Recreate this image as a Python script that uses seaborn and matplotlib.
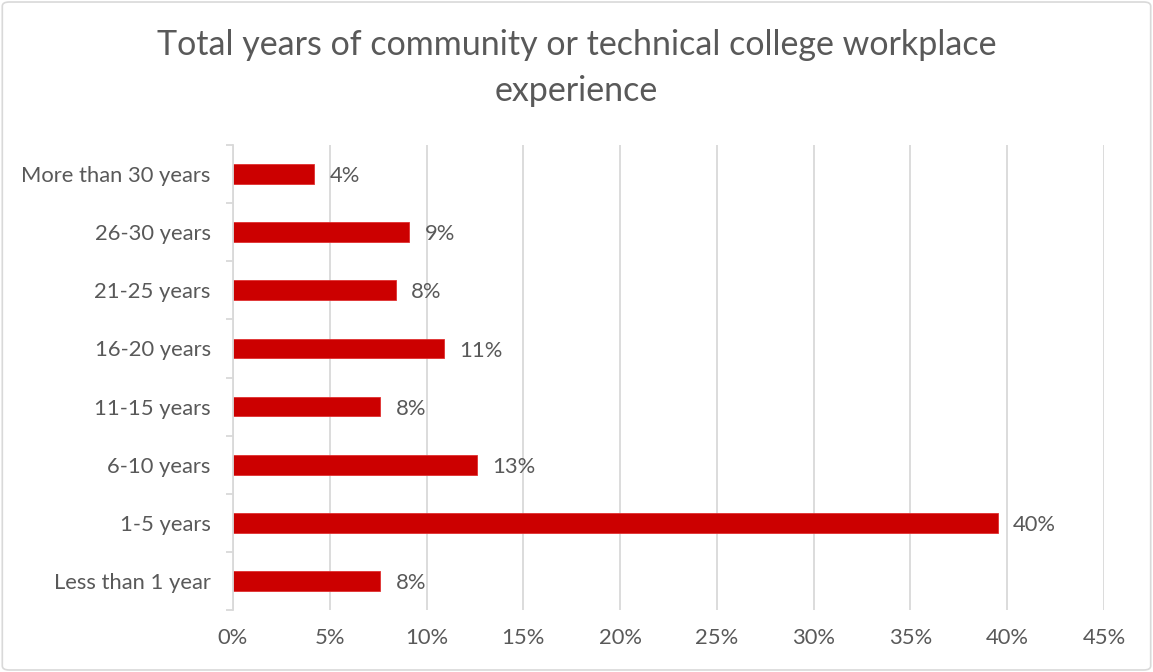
import matplotlib
matplotlib.use("Agg")
import matplotlib.pyplot as plt
import seaborn as sns
import pandas as pd
from matplotlib.patches import FancyBboxPatch
from matplotlib.ticker import FuncFormatter, FixedLocator

# Survey distribution: years of community/technical college workplace experience
categories = [
    "More than 30 years",
    "26-30 years",
    "21-25 years",
    "16-20 years",
    "11-15 years",
    "6-10 years",
    "1-5 years",
    "Less than 1 year",
]
shares = [4.2, 9.1, 8.4, 10.9, 7.6, 12.6, 39.5, 7.6]
x_ticks = [0, 5, 10, 15, 20, 25, 30, 35, 40, 45]

title = "Total years of community or technical college workplace\nexperience"

sns.set_theme(style="white")
plt.rcParams["font.family"] = ["Lato", "DejaVu Sans"]

text_grey = "#595959"
grid_grey = "#d9d9d9"
bar_red = "#cc0000"
label_size = 15.8

df = pd.DataFrame({"category": categories, "share": shares})

fig = plt.figure(figsize=(11.53, 6.72), dpi=100)
ax = fig.add_axes([233 / 1153, 1 - 610 / 672, (1104 - 233) / 1153, (610 - 145) / 672])

sns.barplot(data=df, x="share", y="category", order=categories,
            color=bar_red, saturation=1, width=0.34, ax=ax,
            edgecolor="#e03030", linewidth=0.6)

ax.set_xlim(0, 45)
ax.set_ylim(len(categories) - 0.5, -0.5)
ax.set_xticks(x_ticks)
ax.xaxis.set_major_formatter(FuncFormatter(lambda v, _: f"{v:.0f}%"))
ax.grid(axis="x", color=grid_grey, linewidth=1.3)
ax.grid(axis="y", visible=False)
ax.set_axisbelow(True)

for side in ["top", "right", "bottom"]:
    ax.spines[side].set_visible(False)
ax.spines["left"].set_color(grid_grey)
ax.spines["left"].set_linewidth(1.3)

ax.tick_params(axis="x", length=0, pad=13, labelsize=label_size, labelcolor=text_grey)
ax.tick_params(axis="y", which="major", length=0, pad=16, labelsize=label_size, labelcolor=text_grey)
ax.yaxis.set_minor_locator(FixedLocator([i - 0.5 for i in range(len(categories) + 1)]))
ax.tick_params(axis="y", which="minor", length=5, width=1.3, color=grid_grey, left=True)

ax.set_xlabel("")
ax.set_ylabel("")

# Value labels at the end of each bar
for i, v in enumerate(shares):
    ax.annotate(f"{v:.0f}%", xy=(v, i), xytext=(11, -1.5), textcoords="offset points",
                ha="left", va="center", fontsize=label_size, color=text_grey)

fig.text(0.5, 1 - 68 / 672, title, ha="center", va="center",
         fontsize=24.5, color=text_grey, linespacing=1.55)

# Light rounded frame around the chart area
frame = FancyBboxPatch((0.002, 0.003), 0.996, 0.994,
                       boxstyle="round,pad=0,rounding_size=0.006",
                       transform=fig.transFigure, fill=False,
                       edgecolor=grid_grey, linewidth=1.2)
fig.patches.append(frame)

fig.savefig("out.png", dpi=100, facecolor="white")
